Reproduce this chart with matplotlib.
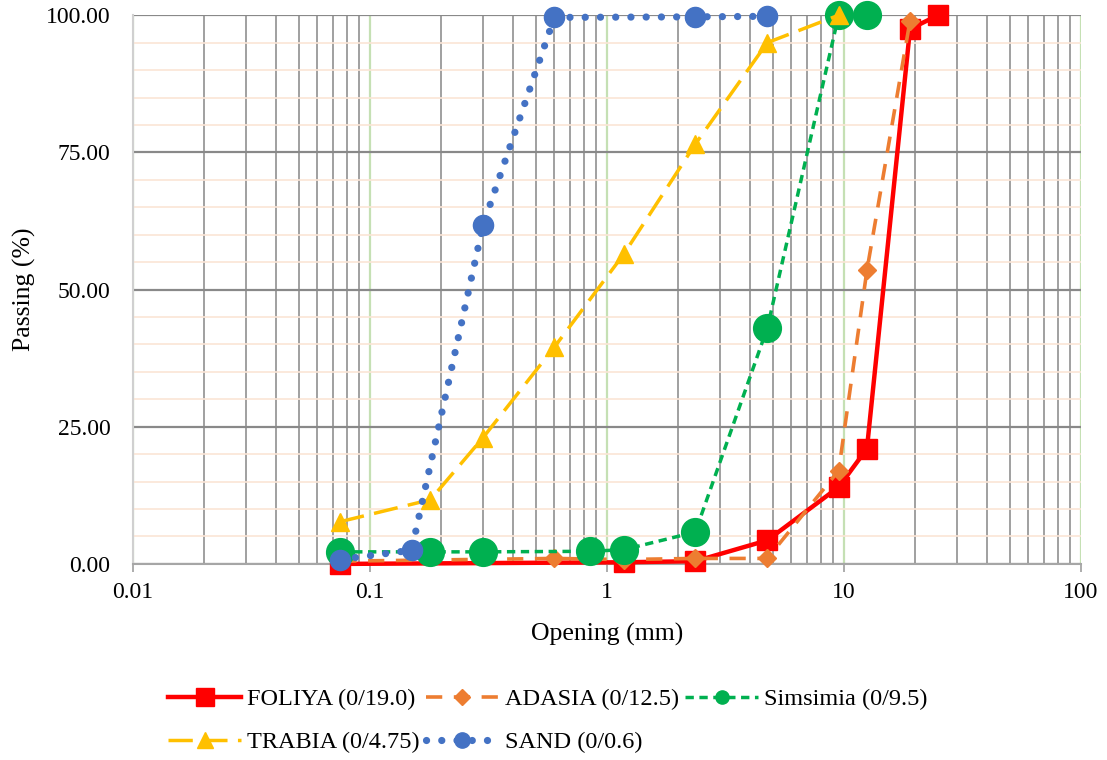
import matplotlib
matplotlib.use("Agg")
import matplotlib.pyplot as plt
from matplotlib.lines import Line2D
from matplotlib.ticker import FixedLocator, FixedFormatter, MultipleLocator, FormatStrFormatter, NullFormatter

# ---- data ----
foliya_x = [0.075, 1.18, 2.36, 4.75, 9.5, 12.5, 19.0, 25.0]
foliya_y = [0.0, 0.3, 0.5, 4.3, 14.0, 21.0, 97.5, 100.0]

adasia_x = [0.075, 0.6, 1.18, 2.36, 4.75, 9.5, 12.5, 19.0]
adasia_y = [0.5, 1.0, 0.8, 1.0, 1.0, 17.0, 53.5, 99.0]

simsimia_x = [0.075, 0.18, 0.3, 0.85, 1.18, 2.36, 4.75, 9.5, 12.5]
simsimia_y = [2.2, 2.2, 2.2, 2.3, 2.6, 5.8, 43.0, 100.0, 100.0]

trabia_x = [0.075, 0.18, 0.3, 0.6, 1.18, 2.36, 4.75, 9.5]
trabia_y = [7.7, 11.7, 23.0, 39.5, 56.5, 76.5, 95.0, 100.0]

sand_x = [0.075, 0.15, 0.3, 0.6, 2.36, 4.75]
sand_y = [0.8, 2.5, 61.7, 99.6, 99.7, 99.8]

x_ticks = [0.01, 0.1, 1, 10, 100]
x_tick_labels = ["0.01", "0.1", "1", "10", "100"]
y_ticks = [0, 25, 50, 75, 100]

labels = ["FOLIYA (0/19.0)", "ADASIA (0/12.5)", "Simsimia (0/9.5)",
          "TRABIA (0/4.75)", "SAND (0/0.6)"]

# ---- styles ----
styles = [
    dict(color='#FF0000', lw=3.2, ls='-', marker='s', ms=14, lms=13),
    dict(color='#ED7D31', lw=2.6, ls=(0, (4.5, 3.2)), marker='D', ms=9, lms=8),
    dict(color='#00B050', lw=2.5, ls=(0, (2.4, 1.6)), marker='o', ms=20, lms=9.5),
    dict(color='#FFC000', lw=2.5, ls=(0, (7, 3)), marker='^', ms=13, lms=12),
    dict(color='#4472C4', lw=5.2, ls=(0, (0.01, 2.1)), marker='o', ms=14.5, lms=11),
]
series = [(foliya_x, foliya_y), (adasia_x, adasia_y), (simsimia_x, simsimia_y),
          (trabia_x, trabia_y), (sand_x, sand_y)]

# ---- figure ----
plt.rcParams['font.family'] = ['Liberation Serif', 'DejaVu Serif']
fig = plt.figure(figsize=(11.07, 7.6), dpi=100)
ax = fig.add_axes([0.120, 0.258, 0.8565, 0.722])

ax.set_xscale('log')
ax.set_xlim(0.01, 100)
ax.set_ylim(0, 100)

ax.xaxis.set_major_locator(FixedLocator(x_ticks))
ax.xaxis.set_major_formatter(FixedFormatter(x_tick_labels))
minor = [m * 10.0 ** e for e in range(-2, 2) for m in range(2, 10)]
ax.xaxis.set_minor_locator(FixedLocator(minor))
ax.xaxis.set_minor_formatter(NullFormatter())
ax.yaxis.set_major_locator(FixedLocator(y_ticks))
ax.yaxis.set_major_formatter(FormatStrFormatter('%.2f'))
ax.yaxis.set_minor_locator(MultipleLocator(5))

ax.grid(which='minor', axis='y', color='#FBE5D6', lw=1.2, zorder=0)
ax.grid(which='minor', axis='x', color='#999999', lw=1.3, zorder=0)
ax.grid(which='major', axis='y', color='#898989', lw=1.6, zorder=0.5)
ax.grid(which='major', axis='x', color='#C5E0B4', lw=1.6, zorder=0.6)
ax.set_axisbelow(True)

for s in ['top', 'right']:
    ax.spines[s].set_visible(False)
ax.spines['left'].set_color('#D0D0D0')
ax.spines['left'].set_linewidth(1.5)
ax.spines['bottom'].set_color('#A6A6A6')
ax.spines['bottom'].set_linewidth(1.5)

ax.tick_params(axis='y', which='both', length=0, labelsize=17, pad=16)
ax.tick_params(axis='x', which='major', length=6, color='#A6A6A6', width=1.3, labelsize=17, pad=7)
ax.tick_params(axis='x', which='minor', length=0)

handles = []
for (xs, ys), st, lab, z in zip(series, styles, labels, range(3, 8)):
    extra = dict(dash_capstyle='round') if st['marker'] == 'o' and st['lw'] > 4 else {}
    ax.plot(xs, ys, color=st['color'], lw=st['lw'], ls=st['ls'], marker=st['marker'],
            ms=st['ms'], clip_on=False, zorder=z, **extra)
    handles.append(Line2D([], [], color=st['color'], lw=st['lw'], ls=st['ls'],
                          marker=st['marker'], ms=st['lms'], **extra))

ax.set_xlabel('Opening (mm)', fontsize=18.5, labelpad=14)
ax.set_ylabel('Passing (%)', fontsize=18.5, labelpad=7)

order = [0, 3, 1, 4, 2]
fig.legend([handles[i] for i in order], [labels[i] for i in order], ncol=3,
           loc='center', bbox_to_anchor=(0.495, 0.0515), frameon=False,
           fontsize=17.5, handlelength=3.0, columnspacing=0.25, handletextpad=0.25,
           labelspacing=0.85, borderpad=0)

fig.savefig('out.png', dpi=100)
